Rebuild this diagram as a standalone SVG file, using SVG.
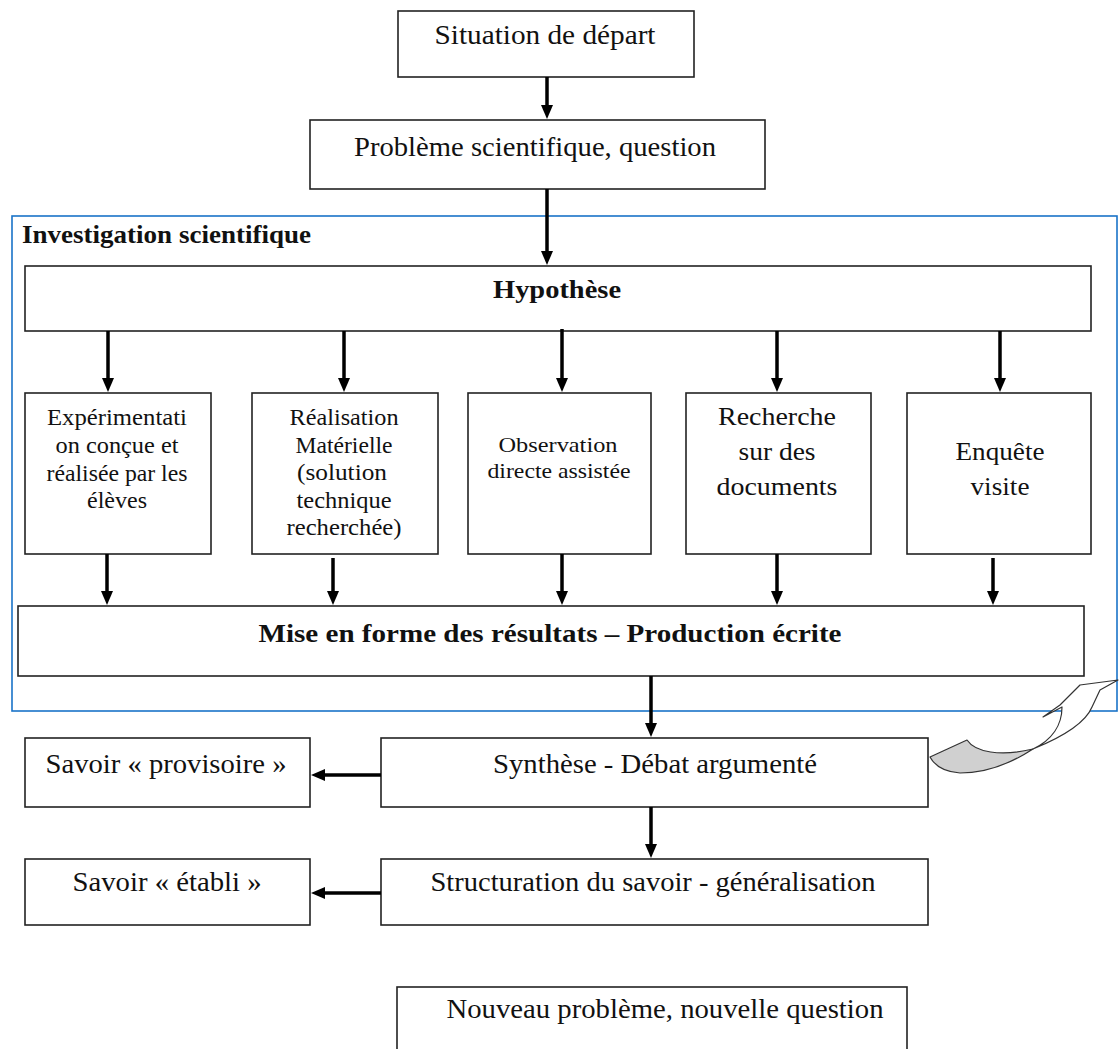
<svg xmlns="http://www.w3.org/2000/svg" width="1119" height="1049" viewBox="0 0 1119 1049">
<style>
.box{fill:#fff;stroke:#222;stroke-width:1.6}
.t{font-family:"Liberation Serif","Times New Roman",serif;fill:#111;text-anchor:middle}
.b{font-weight:bold}
.c{stroke:#000;stroke-width:3.5;fill:none;marker-end:url(#ah)}
</style>
<defs>
<marker id="ah" markerWidth="14" markerHeight="14" refX="8" refY="7" orient="auto" markerUnits="userSpaceOnUse">
<path d="M0,1 L14,7 L0,13 Z" fill="#000"/>
</marker>
</defs>
<rect width="1119" height="1049" fill="#fff"/>

<g id="frame">
<rect x="12" y="216" width="1105" height="495" fill="none" stroke="#1a73c8" stroke-width="1.6"/>
<text class="t b" x="22" y="243" font-size="25" text-anchor="start" textLength="289" lengthAdjust="spacingAndGlyphs" style="text-anchor:start">Investigation scientifique</text>
</g>

<g id="situation">
<rect class="box" x="398" y="11" width="296" height="66"/>
<text class="t" x="545" y="44" font-size="27" textLength="221" lengthAdjust="spacingAndGlyphs">Situation de départ</text>
</g>

<g id="probleme">
<rect class="box" x="310" y="120" width="455" height="69"/>
<text class="t" x="535" y="156" font-size="27" textLength="362" lengthAdjust="spacingAndGlyphs">Problème scientifique, question</text>
</g>

<g id="hypothese">
<rect class="box" x="25" y="266" width="1066" height="65"/>
<text class="t b" x="557" y="298" font-size="26" textLength="128" lengthAdjust="spacingAndGlyphs">Hypothèse</text>
</g>

<g id="experimentation">
<rect class="box" x="25" y="393" width="186" height="161"/>
<text class="t" x="117" y="425" font-size="23" textLength="140" lengthAdjust="spacingAndGlyphs">Expérimentati</text>
<text class="t" x="117" y="453" font-size="23" textLength="123" lengthAdjust="spacingAndGlyphs">on conçue et</text>
<text class="t" x="117" y="481" font-size="23" textLength="141" lengthAdjust="spacingAndGlyphs">réalisée par les</text>
<text class="t" x="117" y="508" font-size="23" textLength="60" lengthAdjust="spacingAndGlyphs">élèves</text>
</g>

<g id="realisation">
<rect class="box" x="252" y="393" width="186" height="161"/>
<text class="t" x="344" y="425" font-size="23" textLength="109" lengthAdjust="spacingAndGlyphs">Réalisation</text>
<text class="t" x="344" y="453" font-size="23" textLength="97" lengthAdjust="spacingAndGlyphs">Matérielle</text>
<text class="t" x="342" y="480" font-size="23" textLength="90" lengthAdjust="spacingAndGlyphs">(solution</text>
<text class="t" x="344" y="508" font-size="23" textLength="95" lengthAdjust="spacingAndGlyphs">technique</text>
<text class="t" x="344" y="535" font-size="23" textLength="115" lengthAdjust="spacingAndGlyphs">recherchée)</text>
</g>

<g id="observation">
<rect class="box" x="468" y="393" width="183" height="161"/>
<text class="t" x="558" y="452" font-size="22" textLength="119" lengthAdjust="spacingAndGlyphs">Observation</text>
<text class="t" x="559" y="478" font-size="22" textLength="143" lengthAdjust="spacingAndGlyphs">directe assistée</text>
</g>

<g id="recherche">
<rect class="box" x="686" y="393" width="185" height="161"/>
<text class="t" x="777" y="425" font-size="25" textLength="118" lengthAdjust="spacingAndGlyphs">Recherche</text>
<text class="t" x="777" y="460" font-size="25" textLength="77" lengthAdjust="spacingAndGlyphs">sur des</text>
<text class="t" x="777" y="495" font-size="25" textLength="121" lengthAdjust="spacingAndGlyphs">documents</text>
</g>

<g id="enquete">
<rect class="box" x="907" y="393" width="184" height="161"/>
<text class="t" x="1000" y="460" font-size="25" textLength="89" lengthAdjust="spacingAndGlyphs">Enquête</text>
<text class="t" x="1000" y="495" font-size="25" textLength="59" lengthAdjust="spacingAndGlyphs">visite</text>
</g>

<g id="mise">
<rect class="box" x="18" y="606" width="1066" height="70"/>
<text class="t b" x="550" y="642" font-size="25" textLength="583" lengthAdjust="spacingAndGlyphs">Mise en forme des résultats – Production écrite</text>
</g>

<g id="synthese">
<rect class="box" x="381" y="738" width="547" height="69"/>
<text class="t" x="655" y="773" font-size="27" textLength="324" lengthAdjust="spacingAndGlyphs">Synthèse - Débat argumenté</text>
</g>

<g id="provisoire">
<rect class="box" x="25" y="738" width="285" height="69"/>
<text class="t" x="166" y="773" font-size="27" textLength="241" lengthAdjust="spacingAndGlyphs">Savoir « provisoire »</text>
</g>

<g id="structuration">
<rect class="box" x="381" y="859" width="547" height="66"/>
<text class="t" x="653" y="891" font-size="27" textLength="445" lengthAdjust="spacingAndGlyphs">Structuration du savoir - généralisation</text>
</g>

<g id="etabli">
<rect class="box" x="25" y="859" width="285" height="66"/>
<text class="t" x="167" y="891" font-size="27" textLength="189" lengthAdjust="spacingAndGlyphs">Savoir « établi »</text>
</g>

<g id="nouveau">
<rect class="box" x="397" y="987" width="510" height="70"/>
<text class="t" x="665" y="1018" font-size="27" textLength="437" lengthAdjust="spacingAndGlyphs">Nouveau problème, nouvelle question</text>
</g>

<g id="curved-arrow" stroke="#333" stroke-width="1.2" stroke-linejoin="round">
<path d="M930,757 L967,740 C975,752 1000,757 1033,749 C1010,764 985,773 960,773 C945,772 935,766 930,757 Z" fill="#d0d0d0"/>
<path d="M1033,749 C1060,738 1085,724 1092,707 L1100,690 L1118,680 L1080,685 L1060,705 L1043,717 L1062,707 C1062,725 1052,740 1033,749 Z" fill="#fff"/>
</g>

<g id="connectors">
<line class="c" x1="547" y1="77" x2="547" y2="113"/>
<line class="c" x1="547" y1="189" x2="547" y2="259"/>
<line class="c" x1="108" y1="331" x2="108" y2="386"/>
<line class="c" x1="344" y1="331" x2="344" y2="386"/>
<line class="c" x1="562" y1="329" x2="562" y2="386"/>
<line class="c" x1="777" y1="331" x2="777" y2="386"/>
<line class="c" x1="1000" y1="331" x2="1000" y2="386"/>
<line class="c" x1="107" y1="554" x2="107" y2="599"/>
<line class="c" x1="333" y1="558" x2="333" y2="599"/>
<line class="c" x1="562" y1="554" x2="562" y2="599"/>
<line class="c" x1="777" y1="554" x2="777" y2="599"/>
<line class="c" x1="993" y1="558" x2="993" y2="599"/>
<line class="c" x1="651" y1="676" x2="651" y2="731"/>
<line class="c" x1="381" y1="775" x2="317" y2="775"/>
<line class="c" x1="651" y1="807" x2="651" y2="852"/>
<line class="c" x1="381" y1="893" x2="317" y2="893"/>
</g>
</svg>
